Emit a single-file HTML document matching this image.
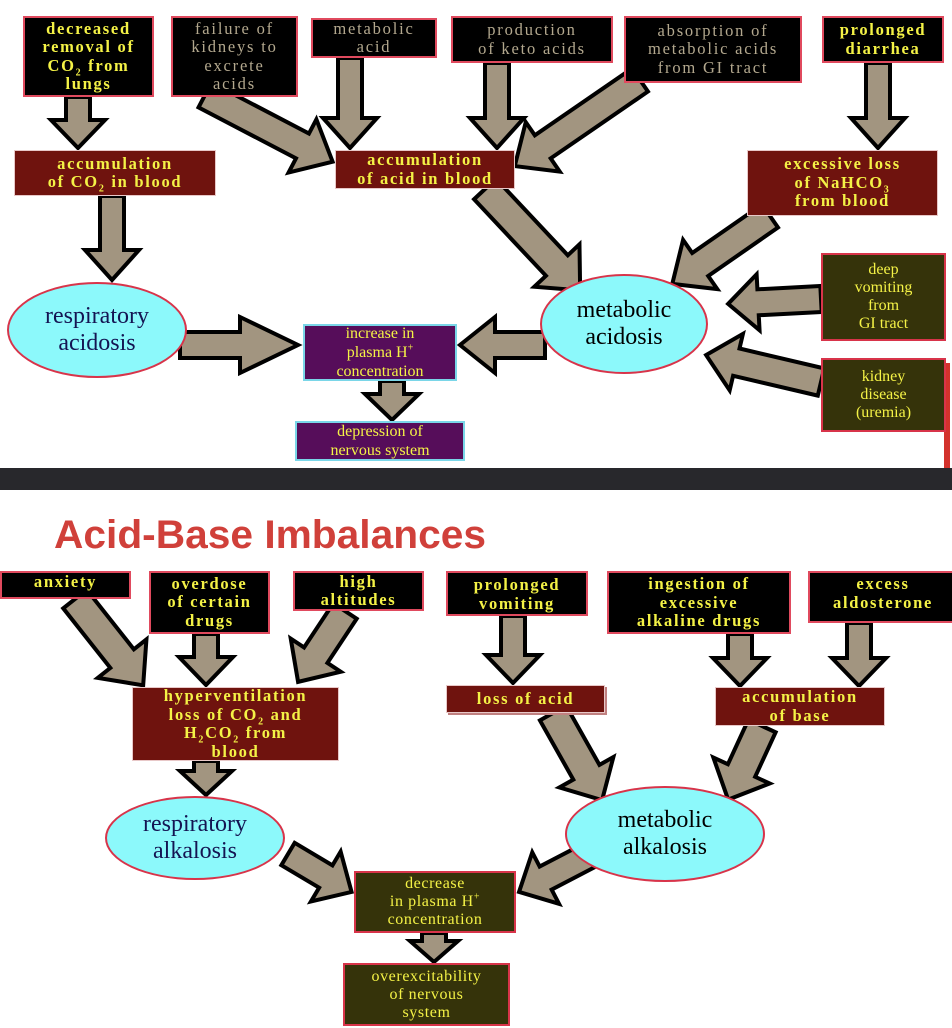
<!DOCTYPE html>
<html><head><meta charset="utf-8"><style>
body{margin:0;width:952px;height:1028px;position:relative;background:#fff;overflow:hidden;font-family:"Liberation Serif",serif}
.b{position:absolute;box-sizing:border-box;display:flex;align-items:center;justify-content:center;text-align:center;line-height:18.5px;font-size:16.5px;font-weight:bold;padding:0;white-space:nowrap;letter-spacing:1.7px}
.b>span{display:block}
.k{background:#000;border:2px solid #e04a5e;color:#f4f246}
.g{color:#b3a88e;font-weight:normal;font-size:16.5px;letter-spacing:1.8px}
.r{background:#6f130e;border:1px solid #e8c8c8;color:#f4f246}
.p{background:#560d5a;border:2px solid #7ad6e8;color:#f4f246;font-weight:normal;font-size:16px;line-height:19px;letter-spacing:0}
.o{background:#35330a;border:2px solid #d8344a;color:#f4f246;font-weight:normal;font-size:16px;line-height:18px;letter-spacing:0}
.o2{letter-spacing:0.6px}
.e{position:absolute;box-sizing:border-box;border-radius:50%;background:#8cf9fb;border:2px solid #d8344a;display:flex;align-items:center;justify-content:center;text-align:center;font-size:24px;line-height:27px}
.e>span{display:block}
sub,sup{font-size:10px;line-height:0}
</style></head><body>
<svg width="952" height="1028" style="position:absolute;left:0;top:0">
<g fill="#a29580" stroke="#000" stroke-width="4" stroke-linejoin="miter">
<g transform="translate(78,97) rotate(90)"><polygon points="0,-12 23,-12 23,-27 51,0 23,27 23,12 0,12"/></g>
<g transform="translate(350,58) rotate(90)"><polygon points="0,-12 60,-12 60,-27 90,0 60,27 60,12 0,12"/></g>
<g transform="translate(497,63) rotate(90)"><polygon points="0,-12 55,-12 55,-27 85,0 55,27 55,12 0,12"/></g>
<g transform="translate(878,63) rotate(90)"><polygon points="0,-12 55,-12 55,-27 85,0 55,27 55,12 0,12"/></g>
<g transform="translate(112,196) rotate(90)"><polygon points="0,-12 54,-12 54,-27 84,0 54,27 54,12 0,12"/></g>
<g transform="translate(392,381) rotate(90)"><polygon points="0,-12 13,-12 13,-27 39,0 13,27 13,12 0,12"/></g>
<g transform="translate(205,95) rotate(27.6)"><polygon points="0,-14 110,-14 110,-30 144,0 110,30 110,14 0,14"/></g>
<g transform="translate(640,80) rotate(145.5)"><polygon points="0,-14 118,-14 118,-30 152,0 118,30 118,14 0,14"/></g>
<g transform="translate(485,189) rotate(46.8)"><polygon points="0,-15 105,-15 105,-31 139,0 105,31 105,15 0,15"/></g>
<g transform="translate(770,216) rotate(145.2)"><polygon points="0,-14 85,-14 85,-30 119,0 85,30 85,14 0,14"/></g>
<g transform="translate(821,299) rotate(177)"><polygon points="0,-13 63,-13 63,-28 93,0 63,28 63,13 0,13"/></g>
<g transform="translate(821,382) rotate(193.2)"><polygon points="0,-14 87,-14 87,-29 118,0 87,29 87,14 0,14"/></g>
<g transform="translate(180,345) rotate(0)"><polygon points="0,-13 60,-13 60,-28 118,0 60,28 60,13 0,13"/></g>
<g transform="translate(545,345) rotate(180)"><polygon points="0,-13 50,-13 50,-28 85,0 50,28 50,13 0,13"/></g>
<g transform="translate(75,599) rotate(51.7)"><polygon points="0,-15 76,-15 76,-31 110,0 76,31 76,15 0,15"/></g>
<g transform="translate(206,634) rotate(90)"><polygon points="0,-12 23,-12 23,-27 51,0 23,27 23,12 0,12"/></g>
<g transform="translate(345,611) rotate(123.5)"><polygon points="0,-14 53,-14 53,-30 85,0 53,30 53,14 0,14"/></g>
<g transform="translate(513,616) rotate(90)"><polygon points="0,-12 39,-12 39,-27 67,0 39,27 39,12 0,12"/></g>
<g transform="translate(740,634) rotate(90)"><polygon points="0,-12 24,-12 24,-27 52,0 24,27 24,12 0,12"/></g>
<g transform="translate(859,623) rotate(90)"><polygon points="0,-12 35,-12 35,-27 63,0 35,27 35,12 0,12"/></g>
<g transform="translate(206,761) rotate(90)"><polygon points="0,-12 10,-12 10,-26 34,0 10,26 10,12 0,12"/></g>
<g transform="translate(553,713) rotate(60.6)"><polygon points="0,-15 68,-15 68,-31 100,0 68,31 68,15 0,15"/></g>
<g transform="translate(762,726) rotate(114.7)"><polygon points="0,-15 49,-15 49,-31 81,0 49,31 49,15 0,15"/></g>
<g transform="translate(288,854) rotate(30.8)"><polygon points="0,-13 44,-13 44,-29 74,0 44,29 44,13 0,13"/></g>
<g transform="translate(590,855) rotate(152.5)"><polygon points="0,-13 50,-13 50,-29 80,0 50,29 50,13 0,13"/></g>
<g transform="translate(434,933) rotate(90)"><polygon points="0,-12 8,-12 8,-24 29,0 8,24 8,12 0,12"/></g>
</g>
<rect x="0" y="468" width="952" height="22" fill="#28282c"/>
<rect x="944" y="363" width="6" height="105" fill="#d3322c"/>
<text x="54" y="548" font-family="Liberation Sans, sans-serif" font-weight="bold" font-size="40" fill="#d0403a" textLength="432" lengthAdjust="spacingAndGlyphs">Acid-Base Imbalances</text>
</svg>

<div class="b k" style="left:23px;top:16px;width:131px;height:81px"><span>decreased<br>removal of<br>CO<sub>2</sub> from<br>lungs</span></div>
<div class="b k g" style="left:171px;top:16px;width:127px;height:81px"><span>failure of<br>kidneys to<br>excrete<br>acids</span></div>
<div class="b k g" style="left:311px;top:18px;width:126px;height:40px"><span>metabolic<br>acid</span></div>
<div class="b k g" style="left:451px;top:16px;width:162px;height:47px"><span>production<br>of keto acids</span></div>
<div class="b k g" style="left:624px;top:16px;width:178px;height:67px"><span>absorption of<br>metabolic acids<br>from GI tract</span></div>
<div class="b k" style="left:822px;top:16px;width:122px;height:47px"><span>prolonged<br>diarrhea</span></div>
<div class="b r" style="left:14px;top:150px;width:202px;height:46px"><span>accumulation<br>of CO<sub>2</sub> in blood</span></div>
<div class="b r" style="left:335px;top:150px;width:180px;height:39px"><span>accumulation<br>of acid in blood</span></div>
<div class="b r" style="left:747px;top:150px;width:191px;height:66px"><span>excessive loss<br>of NaHCO<sub>3</sub><br>from blood</span></div>
<div class="e" style="left:7px;top:282px;width:180px;height:96px;color:#141452"><span>respiratory<br>acidosis</span></div>
<div class="e" style="left:540px;top:274px;width:168px;height:100px;color:#000"><span>metabolic<br>acidosis</span></div>
<div class="b p" style="left:303px;top:324px;width:154px;height:57px"><span>increase in<br>plasma H<sup>+</sup><br>concentration</span></div>
<div class="b p" style="left:295px;top:421px;width:170px;height:40px"><span>depression of<br>nervous system</span></div>
<div class="b o" style="left:821px;top:253px;width:125px;height:88px"><span>deep<br>vomiting<br>from<br>GI tract</span></div>
<div class="b o" style="left:821px;top:358px;width:125px;height:74px"><span>kidney<br>disease<br>(uremia)</span></div>

<div class="b k" style="left:0;top:571px;width:131px;height:28px;align-items:flex-start"><span>anxiety</span></div>
<div class="b k" style="left:149px;top:571px;width:121px;height:63px"><span>overdose<br>of certain<br>drugs</span></div>
<div class="b k" style="left:293px;top:571px;width:131px;height:40px"><span>high<br>altitudes</span></div>
<div class="b k" style="left:446px;top:571px;width:142px;height:45px;align-items:flex-start;padding-top:3px"><span>prolonged<br>vomiting</span></div>
<div class="b k" style="left:607px;top:571px;width:184px;height:63px;align-items:flex-start;padding-top:2px"><span>ingestion of<br>excessive<br>alkaline drugs</span></div>
<div class="b k" style="left:808px;top:571px;width:150px;height:52px;align-items:flex-start;padding-top:2px"><span>excess<br>aldosterone</span></div>
<div class="b r" style="left:132px;top:687px;width:207px;height:74px"><span>hyperventilation<br>loss of CO<sub>2</sub> and<br>H<sub>2</sub>CO<sub>2</sub> from<br>blood</span></div>
<div class="b r" style="left:446px;top:685px;width:159px;height:28px;box-shadow:2px 2px 0 #c08080"><span>loss of acid</span></div>
<div class="b r" style="left:715px;top:687px;width:170px;height:39px"><span>accumulation<br>of base</span></div>
<div class="e" style="left:105px;top:796px;width:180px;height:84px;color:#141452"><span>respiratory<br>alkalosis</span></div>
<div class="e" style="left:565px;top:786px;width:200px;height:96px;color:#000"><span>metabolic<br>alkalosis</span></div>
<div class="b o o2" style="left:354px;top:871px;width:162px;height:62px"><span>decrease<br>in plasma H<sup>+</sup><br>concentration</span></div>
<div class="b o o2" style="left:343px;top:963px;width:167px;height:63px"><span>overexcitability<br>of nervous<br>system</span></div>
</body></html>
